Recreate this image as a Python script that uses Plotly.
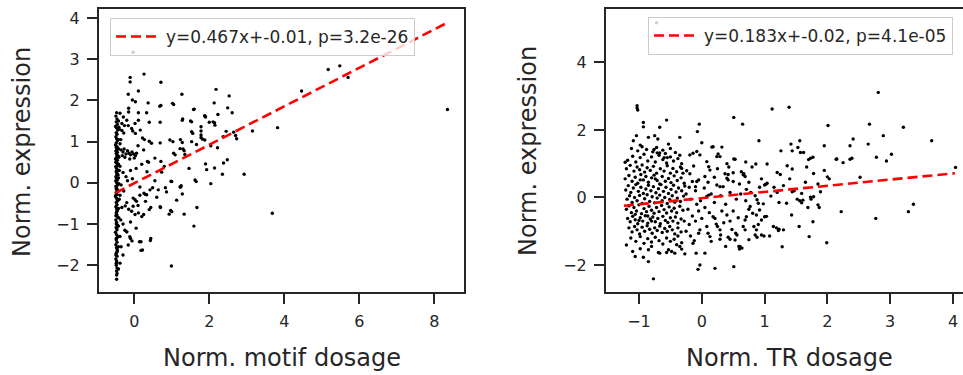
import plotly.graph_objects as go

# ---------------- data ----------------
motif_strip = [
    (-0.47,1.70),(-0.49,1.62),(-0.46,1.55),(-0.48,1.48),(-0.45,1.42),(-0.50,1.37),(-0.47,1.33),(-0.44,1.28),
    (-0.48,1.22),(-0.46,1.18),(-0.49,1.12),(-0.47,1.07),(-0.45,1.02),(-0.48,0.97),(-0.50,0.92),(-0.46,0.88),
    (-0.44,0.84),(-0.47,0.80),(-0.49,0.77),(-0.45,0.74),(-0.48,0.71),(-0.46,0.68),(-0.43,0.65),(-0.47,0.61),
    (-0.50,0.58),(-0.45,0.55),(-0.48,0.51),(-0.46,0.47),(-0.44,0.43),(-0.49,0.39),(-0.47,0.35),(-0.45,0.31),
    (-0.48,0.27),(-0.46,0.23),(-0.43,0.19),(-0.49,0.15),(-0.47,0.11),(-0.45,0.07),(-0.48,0.03),(-0.46,-0.01),
    (-0.44,-0.05),(-0.49,-0.09),(-0.47,-0.13),(-0.45,-0.18),(-0.48,-0.23),(-0.46,-0.28),(-0.50,-0.33),(-0.47,-0.38),
    (-0.44,-0.43),(-0.48,-0.48),(-0.46,-0.53),(-0.49,-0.58),(-0.47,-0.63),(-0.45,-0.68),(-0.48,-0.73),(-0.46,-0.78),
    (-0.44,-0.84),(-0.49,-0.90),(-0.47,-0.96),(-0.45,-1.02),(-0.48,-1.08),(-0.46,-1.14),(-0.50,-1.20),(-0.47,-1.26),
    (-0.45,-1.32),(-0.48,-1.38),(-0.46,-1.44),(-0.49,-1.50),(-0.47,-1.57),(-0.45,-1.64),(-0.48,-1.71),(-0.46,-1.78),
    (-0.49,-1.85),(-0.47,-1.93),(-0.48,-2.00),(-0.46,-2.07),(-0.47,-2.14),(-0.47,-2.24),(-0.47,-2.34),
    (-0.42,0.82),(-0.41,0.62),(-0.42,0.45),(-0.40,0.30),(-0.42,0.12),(-0.41,-0.02),(-0.42,-0.20),(-0.40,-0.40),
    (-0.42,-0.62),(-0.41,-0.85),(-0.42,-1.05),(-0.40,-1.30),(-0.42,-1.55),(-0.41,1.35),(-0.42,1.05),(-0.49,0.05),
    (-0.46,0.20),(-0.48,0.40),(-0.47,0.60),(-0.49,-0.30),(-0.47,-0.70),(-0.48,-1.00),(-0.46,-1.60),(-0.49,-1.75),
    (-0.47,-1.90),(-0.48,0.86),(-0.46,0.64),(-0.49,0.50),(-0.47,0.28),(-0.48,-0.15),(-0.46,-0.45),(-0.49,-0.80),
    (-0.47,-1.10),(-0.48,-1.35),(-0.46,-1.68),(-0.48,-1.96),(-0.46,-2.20),
]

motif_scatter = [
    (-0.03,3.17),(-0.11,2.56),(-0.11,2.45),(0.26,2.64),(0.71,2.44),(0.11,2.23),(-0.16,2.15),(-0.05,2.01),
    (0.03,1.97),(0.37,1.94),(0.68,1.86),(0.71,1.88),(1.02,1.93),(1.05,1.90),(1.27,2.15),(2.18,2.27),
    (2.53,2.11),(2.13,1.94),(1.60,1.79),(2.49,1.82),(2.61,1.70),(1.88,1.63),(1.90,1.60),(2.23,1.66),
    (1.29,1.55),(1.50,1.50),(2.10,1.48),(2.14,1.46),(1.78,1.36),(2.65,1.23),(2.70,1.15),(2.73,1.07),
    (3.15,1.26),(3.82,1.34),(2.45,1.25),(1.56,1.20),(1.78,1.10),(1.82,1.06),(1.03,1.00),(1.66,0.93),
    (1.30,0.82),(1.33,0.78),(2.22,0.85),(1.05,0.72),(1.09,0.68),(1.35,0.69),(0.71,0.52),(0.35,0.52),
    (0.38,0.50),(0.73,0.26),(0.34,0.27),(0.83,-0.12),(0.49,-0.12),(1.00,0.03),(1.25,-0.07),(1.24,-0.10),
    (1.46,0.35),(1.65,0.03),(1.90,0.46),(1.93,0.32),(2.04,-0.02),(2.14,0.36),(2.35,0.21),(2.48,0.56),
    (2.38,0.48),(2.93,0.21),(3.68,-0.74),(8.35,1.78),(5.17,2.75),(5.48,2.84),(5.70,2.56),(4.46,2.23),
    (0.26,-0.25),(0.29,-0.28),(1.28,-0.27),(1.33,-0.76),(1.67,-0.60),(1.59,-1.05),(0.99,-2.02),(0.70,-0.60),
    (0.97,-0.67),(0.93,-0.76),(1.00,-0.70),(0.40,-0.65),(0.43,-1.40),(0.18,-1.64),(0.14,-1.43),(-0.10,-1.35),
    (-0.06,-1.41),(-0.20,-1.19),(1.13,-0.42),(1.22,-0.10),(1.62,0.07),(0.98,0.04),(0.86,-0.22),(0.64,-0.17),
    (0.42,-0.17),(0.33,-0.29),(0.69,-0.58),(0.44,-0.60),(0.25,-0.77),(0.20,-0.82),(0.11,-0.73),(0.02,-0.77),
    (-0.07,-0.69),(-0.03,-0.57),(-0.15,-0.64),(-0.20,-0.48),(-0.24,-0.56),(0.02,-0.41),(-0.03,-0.37),(0.06,-0.45),
    (-0.25,-1.15),(-0.20,-1.19),(-0.12,-1.31),(-0.16,-1.51),(0.18,-1.43),(0.22,-1.63),(0.44,-1.35),(-0.42,-2.09),
    (-0.15,1.81),(-0.15,1.72),(-0.38,1.69),(0.11,1.70),(0.33,1.70),(0.69,1.47),(0.40,1.47),(1.28,1.52),
    (1.58,1.78),(1.53,1.48),(1.88,1.62),(2.00,1.47),(-0.29,1.60),(-0.20,1.52),(-0.42,1.50),(-0.33,1.44),
    (-0.26,1.39),(-0.16,1.39),(-0.07,1.32),(0.11,1.52),(0.02,1.44),(-0.33,1.27),(-0.28,1.21),(-0.04,1.26),
    (0.03,1.20),(0.16,1.28),(0.22,1.09),(0.27,1.05),(0.40,1.01),(0.46,0.96),(0.69,0.97),(0.95,1.04),
    (1.22,0.83),(1.23,1.05),(1.28,0.98),(1.53,1.24),(1.78,1.26),(1.78,1.16),(1.88,1.04),(2.04,0.90),
    (2.15,1.40),(2.37,1.12),(1.53,1.00),
    (-0.35,0.80),(-0.30,0.75),(-0.27,0.82),(-0.22,0.70),(-0.18,0.78),(-0.14,0.72),(-0.10,0.68),(-0.06,0.75),
    (-0.02,0.70),(0.03,0.66),(0.06,0.72),(-0.25,0.62),(-0.12,0.58),(0.00,0.60),(-0.32,0.66),
    (-0.38,0.40),(-0.30,0.25),(-0.22,0.15),(-0.35,-0.05),(-0.28,-0.20),(-0.18,0.05),(-0.10,0.30),(-0.05,0.10),
    (0.05,0.35),(0.15,-0.10),(-0.38,-0.30),(-0.33,-0.60),(-0.36,-0.90),(-0.30,-1.00),(-0.38,-1.30),(-0.35,-1.55),
    (-0.30,-1.75),(-0.38,-1.95),(-0.40,1.30),(-0.36,1.05),(-0.38,0.95),(0.10,0.90),(0.20,0.45),(0.25,0.80),
    (0.55,0.60),(0.60,-0.35),(0.55,0.05),(0.80,0.40),(0.15,-0.30),(0.30,-0.45),(0.10,-0.55),(-0.10,-0.95),
    (0.05,-1.10),
]

tr_points = [
    # dense cluster
    (-1.12,1.45),(-1.02,1.38),(-0.95,1.50),(-0.88,1.42),(-0.78,1.35),(-0.72,1.48),(-0.62,1.40),(-0.58,1.30),
    (-0.50,1.45),(-0.42,1.33),(-0.35,1.25),
    (-1.18,1.10),(-1.10,1.22),(-1.05,1.05),(-0.98,1.18),(-0.92,1.28),(-0.86,1.08),(-0.80,1.20),(-0.74,1.05),
    (-0.68,1.25),(-0.62,1.12),(-0.56,1.02),(-0.50,1.20),(-0.45,1.08),(-0.38,1.15),(-0.32,1.00),
    (-1.20,0.85),(-1.14,0.95),(-1.08,0.78),(-1.03,0.90),(-0.99,0.82),(-0.95,0.96),(-0.91,0.75),(-0.87,0.88),
    (-0.82,0.80),(-0.77,0.92),(-0.72,0.72),(-0.66,0.85),(-0.60,0.78),(-0.55,0.94),(-0.50,0.72),(-0.46,0.86),
    (-0.40,0.76),(-0.34,0.90),(-0.30,0.72),
    (-1.22,0.55),(-1.16,0.65),(-1.11,0.48),(-1.06,0.60),(-1.02,0.42),(-0.97,0.68),(-0.93,0.52),(-0.89,0.62),
    (-0.85,0.45),(-0.80,0.58),(-0.76,0.66),(-0.71,0.50),(-0.67,0.40),(-0.63,0.62),(-0.58,0.48),(-0.53,0.56),
    (-0.49,0.44),(-0.44,0.64),(-0.39,0.50),(-0.33,0.58),(-0.28,0.42),(-0.98,0.52),(-0.74,0.55),
    (-1.21,0.22),(-1.17,0.35),(-1.13,0.15),(-1.09,0.28),(-1.05,0.38),(-1.01,0.18),(-0.97,0.30),(-0.93,0.12),
    (-0.89,0.25),(-0.85,0.36),(-0.81,0.20),(-0.77,0.32),(-0.73,0.14),(-0.69,0.26),(-0.65,0.38),(-0.61,0.18),
    (-0.57,0.30),(-0.53,0.12),(-0.49,0.24),(-0.45,0.36),(-0.41,0.16),(-0.37,0.28),(-0.32,0.20),(-0.27,0.34),
    (-1.19,-0.05),(-1.15,0.05),(-1.11,-0.15),(-1.07,0.00),(-1.03,-0.10),(-0.99,0.06),(-0.95,-0.18),(-0.91,-0.04),
    (-0.87,0.08),(-0.83,-0.12),(-0.79,0.02),(-0.75,-0.16),(-0.71,-0.02),(-0.67,0.07),(-0.63,-0.10),(-0.59,0.00),
    (-0.55,-0.18),(-0.51,-0.06),(-0.47,0.05),(-0.43,-0.14),(-0.39,-0.02),(-0.34,-0.12),(-0.29,0.04),
    (-1.20,-0.35),(-1.16,-0.25),(-1.12,-0.45),(-1.08,-0.30),(-1.04,-0.40),(-1.00,-0.22),(-0.96,-0.48),(-0.92,-0.33),
    (-0.88,-0.42),(-0.84,-0.26),(-0.80,-0.38),(-0.76,-0.47),(-0.72,-0.30),(-0.68,-0.42),(-0.64,-0.24),(-0.60,-0.36),
    (-0.56,-0.46),(-0.52,-0.28),(-0.48,-0.40),(-0.44,-0.32),(-0.40,-0.45),(-0.35,-0.26),(-0.30,-0.38),(-1.06,-0.50),
    (-0.86,-0.55),
    (-1.18,-0.62),(-1.14,-0.72),(-1.10,-0.56),(-1.06,-0.66),(-1.02,-0.78),(-0.98,-0.60),(-0.94,-0.70),(-0.90,-0.54),
    (-0.86,-0.76),(-0.82,-0.64),(-0.78,-0.58),(-0.74,-0.72),(-0.70,-0.62),(-0.66,-0.78),(-0.62,-0.56),(-0.58,-0.68),
    (-0.54,-0.74),(-0.50,-0.60),(-0.46,-0.70),(-0.42,-0.58),(-0.38,-0.76),(-0.33,-0.64),(-0.28,-0.70),(-1.00,-0.68),
    (-0.80,-0.70),
    (-1.16,-0.90),(-1.11,-1.02),(-1.07,-0.86),(-1.03,-0.96),(-0.99,-1.08),(-0.95,-0.88),(-0.91,-1.00),(-0.87,-0.84),
    (-0.83,-0.94),(-0.79,-1.06),(-0.75,-0.90),(-0.71,-0.98),(-0.67,-0.85),(-0.63,-1.04),(-0.59,-0.92),(-0.55,-1.00),
    (-0.51,-0.86),(-0.47,-0.96),(-0.43,-1.08),(-0.38,-0.90),(-0.33,-1.02),
    (-1.13,-1.20),(-1.05,-1.30),(-0.98,-1.16),(-0.92,-1.36),(-0.86,-1.22),(-0.80,-1.32),(-0.74,-1.18),(-0.68,-1.28),
    (-0.62,-1.38),(-0.56,-1.20),(-0.50,-1.30),(-0.44,-1.24),(-0.38,-1.14),(-0.32,-1.34),
    (-1.20,-1.41),(-1.06,-1.75),(-0.93,-1.77),(-0.85,-1.55),(-0.80,-1.45),(-0.77,-2.41),(-0.85,-1.90),(-0.69,-1.63),
    (-0.56,-1.63),(-0.53,-1.55),(-0.48,-1.60),(-0.43,-1.65),(-0.40,-1.40),(-0.35,-1.45),(-0.32,-1.53),(-0.27,-1.67),
    (-0.67,-1.65),(-0.98,-1.52),(-1.10,-1.60),
    # upper left scatter
    (-1.03,2.72),(-1.02,2.59),(-1.03,2.65),(-0.93,2.22),(-0.93,2.09),(-0.56,2.29),(-0.67,2.08),(-1.04,1.83),
    (-1.09,1.68),(-0.98,1.55),(-0.85,1.78),(-0.75,1.83),(-0.70,1.73),(-0.53,1.58),(-0.35,1.78),(-0.76,1.42),
    (-0.71,1.32),(-0.67,1.32),(-0.60,1.18),(-0.55,1.18),(-1.22,1.04),(-0.72,5.17),
    # middle
    (-0.04,2.17),(-0.07,1.95),(0.00,1.62),(0.51,2.37),(0.65,2.17),(0.91,1.68),(-0.19,1.26),(-0.14,1.31),
    (-0.08,1.36),(-0.03,1.26),(0.16,1.49),(0.32,1.49),(0.24,1.21),(0.08,1.06),(0.11,0.91),(0.13,0.81),
    (-0.24,0.79),(-0.19,0.70),(-0.15,0.47),(-0.32,0.86),(-0.13,0.93),(-0.08,0.47),(-0.05,0.52),(-0.10,0.32),
    (0.08,0.03),(0.11,0.07),(0.24,0.37),(0.29,0.32),(0.34,0.32),(0.40,0.57),(0.42,0.52),(0.50,0.73),
    (0.66,0.67),(0.69,0.62),(0.51,1.14),(0.86,0.99),(0.43,0.90),(0.63,0.76),(0.67,0.70),(0.37,0.70),
    (0.42,0.68),(0.29,1.21),(0.26,1.29),(0.18,1.50),(0.53,1.13),(0.50,0.47),(0.71,0.24),(0.88,-0.07),
    (0.90,-0.17),(0.98,-0.19),(0.77,-0.27),(0.75,-0.35),(0.81,-0.47),(0.87,-0.52),(0.92,-0.37),(0.95,-0.67),
    (1.00,-0.57),(0.71,-0.57),(0.69,-0.67),(0.66,-0.86),(0.69,-0.96),(0.83,-0.86),(0.87,-0.96),(0.85,-1.11),
    (0.88,-1.18),(0.95,-1.11),(0.99,-1.14),(0.54,-1.06),(0.56,-1.11),(0.53,-1.26),(0.59,-1.45),(0.60,-1.53),
    (0.45,-1.24),(0.42,-1.18),(0.29,-1.24),(0.30,-1.11),(0.29,-0.96),(0.23,-0.79),(0.25,-0.86),(0.18,-0.57),
    (0.21,-0.62),(0.08,-0.86),(0.10,-1.06),(0.13,-1.16),(-0.03,-0.96),(-0.05,-1.06),(-0.12,-1.28),(-0.18,-1.14),
    (-0.09,-1.65),(0.05,-1.65),(-0.03,-2.00),(-0.06,-2.13),(0.21,-2.10),(0.51,-2.05),(-0.14,-1.36),(0.61,-1.45),
    (0.64,-1.50),(0.40,-0.52),
    (-0.25,0.10),(-0.18,-0.05),(-0.10,0.20),(-0.02,-0.10),(0.04,0.28),(0.15,0.10),(0.20,-0.15),(0.30,0.05),
    (0.38,-0.20),(0.45,0.15),(0.55,-0.05),(0.62,0.10),(0.70,-0.10),(0.78,0.15),(0.85,0.05),(-0.22,-0.35),
    (-0.15,-0.55),(-0.05,-0.40),(0.05,-0.30),(0.12,-0.45),(0.32,-0.40),(0.45,-0.70),(0.50,-0.40),(0.58,-0.60),
    (0.35,-0.75),(-0.20,-0.80),(-0.10,-0.70),(0.00,-0.62),(0.15,-1.30),(-0.25,-1.00),(0.20,0.60),(0.05,0.62),
    (-0.20,0.30),(0.25,0.85),(0.60,0.40),(0.75,0.45),(0.92,0.30),(0.95,0.55),(0.80,0.90),(0.40,1.00),
    (0.70,1.05),(0.10,0.45),(0.48,-0.95),(0.75,-1.25),(0.38,-1.45),(-0.08,-0.20),(0.90,-0.80),
    # x 1..2
    (1.12,2.62),(1.39,2.67),(1.42,1.58),(1.56,1.68),(1.53,1.48),(1.44,1.38),(1.57,1.33),(1.62,1.33),
    (1.26,1.38),(1.95,1.53),(1.70,1.12),(1.73,1.16),(1.77,1.19),(1.04,0.99),(1.36,0.94),(1.44,0.84),
    (1.67,0.90),(1.78,0.71),(1.95,0.80),(2.00,0.61),(1.20,0.74),(1.25,0.68),(1.23,-0.15),(1.43,-0.52),
    (1.55,-0.86),(1.71,-1.16),(1.99,-1.34),(1.28,-1.46),(1.77,-0.72),(1.85,-0.22),(1.87,-0.30),(1.69,-0.30),
    (1.52,-0.05),(1.56,-0.10),(1.59,-0.16),(1.73,0.01),(1.74,-0.05),(1.89,0.17),(1.23,-0.94),(1.22,-0.98),
    (1.08,-1.14),(1.03,-0.56),(1.04,0.42),(1.00,0.37),(1.10,0.04),(1.02,0.39),(1.14,-0.86),(1.19,-0.90),
    (1.30,-0.96),(1.35,-0.17),(1.44,0.17),(1.47,0.20),(1.59,0.12),(1.61,-0.08),(1.78,0.02),(1.30,0.35),
    (1.15,0.30),(1.40,0.55),(1.65,0.45),(1.85,0.40),(1.20,0.15),(2.03,0.55),
    # x > 2
    (2.01,2.13),(2.65,1.58),(2.67,2.17),(2.81,3.11),(2.89,1.83),(2.78,1.19),(2.94,1.08),(3.02,1.28),
    (3.21,2.08),(3.66,1.68),(4.04,0.89),(3.29,-0.42),(3.37,-0.20),(2.77,-0.62),(2.22,-0.42),(2.14,1.13),
    (2.25,1.03),(2.36,1.13),(2.39,1.16),(2.36,1.53),(2.41,1.73),(2.52,0.60),(2.15,1.14),
]

motif_fit = (0.467, -0.01)   # slope, intercept
tr_fit = (0.183, -0.02)
motif_label = "y=0.467x+-0.01, p=3.2e-26"
tr_label = "y=0.183x+-0.02, p=4.1e-05"
motif_line_x = [-0.50, 8.35]
tr_line_x = [-1.24, 4.03]

motif_xticks = [0, 2, 4, 6, 8]
motif_yticks = [-2, -1, 0, 1, 2, 3, 4]
tr_xticks = [-1, 0, 1, 2, 3, 4]
tr_yticks = [-2, 0, 2, 4]

# ---------------- figure ----------------
motif_pts = motif_strip + motif_scatter
mx = [p[0] for p in motif_pts]
my = [p[1] for p in motif_pts]
tx = [p[0] for p in tr_points]
ty = [p[1] for p in tr_points]

W, H = 963, 375
ink = "#262626"
font = "DejaVu Sans"

fig = go.Figure()
mk = dict(color="black", size=3.4, line=dict(width=0))
fig.add_trace(go.Scatter(x=mx, y=my, mode="markers", marker=mk, showlegend=False,
                         xaxis="x", yaxis="y", hoverinfo="skip"))
fig.add_trace(go.Scatter(x=tx, y=ty, mode="markers", marker=mk, showlegend=False,
                         xaxis="x2", yaxis="y2", hoverinfo="skip"))
fig.add_trace(go.Scatter(x=motif_line_x, y=[motif_fit[0]*v + motif_fit[1] for v in motif_line_x],
                         mode="lines", line=dict(color="red", width=2.6, dash="10px,5px"),
                         name=motif_label, legend="legend", xaxis="x", yaxis="y"))
fig.add_trace(go.Scatter(x=tr_line_x, y=[tr_fit[0]*v + tr_fit[1] for v in tr_line_x],
                         mode="lines", line=dict(color="red", width=2.6, dash="10px,5px"),
                         name=tr_label, legend="legend2", xaxis="x2", yaxis="y2"))

ydom = [1 - 292/H, 1 - 9/H]
axcommon = dict(showgrid=False, zeroline=False, showline=True, linecolor=ink, linewidth=2,
                ticks="outside", ticklen=10, tickwidth=2, tickcolor=ink, ticklabelstandoff=4,
                tickfont=dict(family=font, size=16, color=ink))

legfont = dict(family=font, size=17, color=ink)
fig.update_layout(
    width=W, height=H, margin=dict(l=0, r=0, t=0, b=0),
    paper_bgcolor="white", plot_bgcolor="white",
    xaxis=dict(domain=[99/W, 464/W], range=[-0.94, 8.79], tickvals=motif_xticks, mirror=True,
               anchor="y", **axcommon),
    yaxis=dict(domain=ydom, range=[-2.65, 4.22], tickvals=motif_yticks, mirror=True,
               anchor="x", **axcommon),
    xaxis2=dict(domain=[606/W, 1.0], range=[-1.525, 4.159], tickvals=tr_xticks, mirror=True,
                anchor="y2", **axcommon),
    yaxis2=dict(domain=ydom, range=[-2.80, 5.58], tickvals=tr_yticks, mirror=False,
                anchor="x2", **axcommon),
    legend=dict(x=110/W, y=1 - 18/H, xanchor="left", yanchor="top",
                bgcolor="rgba(255,255,255,0.8)", bordercolor="#cccccc", borderwidth=1,
                font=legfont, itemwidth=45),
    legend2=dict(x=648/W, y=1 - 17/H, xanchor="left", yanchor="top",
                 bgcolor="rgba(255,255,255,0.8)", bordercolor="#cccccc", borderwidth=1,
                 font=legfont, itemwidth=45),
)

tfont = dict(family=font, size=24, color=ink)
fig.add_annotation(text="Norm. expression", x=22/W, y=1 - 152/H, xref="paper", yref="paper",
                   textangle=-90, showarrow=False, font=tfont, xanchor="center", yanchor="middle")
fig.add_annotation(text="Norm. expression", x=528/W, y=1 - 151/H, xref="paper", yref="paper",
                   textangle=-90, showarrow=False, font=tfont, xanchor="center", yanchor="middle")
fig.add_annotation(text="Norm. motif dosage", x=281.5/W, y=1 - 358/H, xref="paper", yref="paper",
                   showarrow=False, font=tfont, xanchor="center", yanchor="middle")
fig.add_annotation(text="Norm. TR dosage", x=789/W, y=1 - 358/H, xref="paper", yref="paper",
                   showarrow=False, font=tfont, xanchor="center", yanchor="middle")

fig.write_html("out.html")
